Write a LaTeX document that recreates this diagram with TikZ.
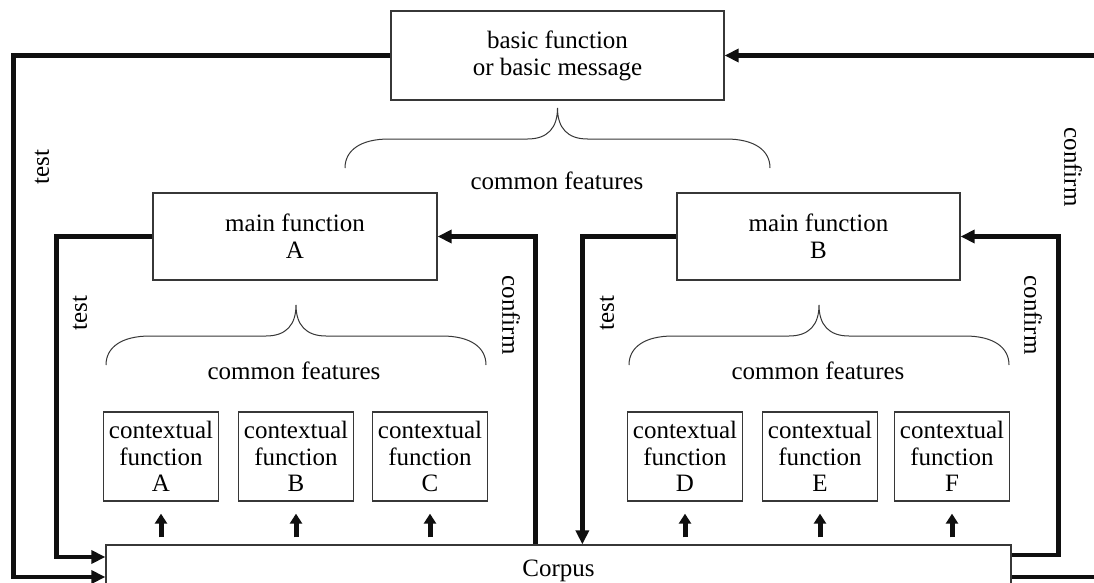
\documentclass[tikz,border=0pt]{standalone}
\usepackage{fontspec}
\setmainfont{Liberation Serif}
\usetikzlibrary{arrows.meta,positioning,calc}
\definecolor{ink}{RGB}{15,15,15}
\definecolor{boxgray}{RGB}{55,55,55}
\tikzset{
  >={Triangle[length=14pt,width=13pt]},
  txt/.style={font=\fontsize{25}{27}\selectfont,align=center},
  fbox/.style={draw=boxgray,line width=1.3pt,txt,inner sep=0pt,minimum width=#1,minimum height=87pt},
  fbox/.default=284pt,
  ctx/.style={fbox=115pt,minimum height=89pt,font=\fontsize{25}{26.5}\selectfont},
  flow/.style={->,line width=4.5pt,draw=ink},
  lift/.style={-{Triangle[length=10pt,width=12pt]},line width=5pt,draw=ink,
    shorten <=7pt,shorten >=12pt},
  tag/.style={txt,inner sep=0pt},
  % curly brace, origin between its two feet
  pics/featbrace/.style={code={
    \draw[boxgray,line width=1pt] (-#1,0) .. controls (-#1,-18) and (-#1+16,-29) .. (-#1+44,-29)
      -- (-30,-29) .. controls (-10,-29) and (0,-40) .. (0,-60)
      .. controls (0,-40) and (10,-29) .. (30,-29)
      -- (#1-44,-29) .. controls (#1-16,-29) and (#1,-18) .. (#1,0);
  }},
  pics/featbrace/.default=190,
}

\begin{document}
\begin{tikzpicture}[x=1pt,y=-1pt]
  \fill[white] (0,0) rectangle (1094,583);
  \useasboundingbox (0,0) rectangle (1094,583);

  % boxes
  \node[fbox=333pt,minimum height=89pt] (basic) at (557.5,55.5) {basic function\\or basic message};
  \node[fbox] (mainA) at (295,236.5) {main function\\A};
  \node[fbox=283pt] (mainB) at (818.5,236.5) {main function\\B};
  \foreach \n/\x in {A/161,B/296,C/430,D/685,E/820,F/952}
    \node[ctx] (ctx\n) at (\x,456.5) {contextual\\function\\\n};
  \node[draw=boxgray,line width=1.3pt,txt,inner sep=0pt,minimum width=905pt,minimum height=52pt]
    (corpus) at (558.5,571) {Corpus};

  % braces
  \pic at (557.5,168) {featbrace=212.5};
  \pic at (296,365) {featbrace=190};
  \pic at (819,365) {featbrace=190};
  \node[tag] (cfTop) at (557,181) {common features};
  \node[tag] (cfA) at (294,371) {common features};
  \node[tag] (cfB) at (818,371) {common features};

  % test / confirm loops
  \draw[flow] (basic.west) -- ++(-377,0) |- ([yshift=-6pt]corpus.west);
  \draw[flow] ([yshift=-6pt]corpus.east) -- ++(100,0) |- (basic.east);
  \draw[flow] (mainA.west) -- ++(-96,0) |- ([yshift=14pt]corpus.west);
  \draw[flow] ([xshift=430pt]corpus.north west) |- (mainA.east);
  \draw[flow] (mainB.west) -| ([xshift=477pt]corpus.north west);
  \draw[flow] ([yshift=16pt]corpus.east) -- ++(47,0) |- (mainB.east);

  \node[tag,rotate=90] (testTop) at (42,167) {test};
  \node[tag,rotate=90] (testA) at (80,313) {test};
  \node[tag,rotate=90] (testB) at (607,313) {test};
  \node[tag,rotate=-90] (confTop) at (1073,167) {confirm};
  \node[tag,rotate=-90] (confA) at (511,315) {confirm};
  \node[tag,rotate=-90] (confB) at (1033,315) {confirm};

  % corpus feeds the contextual functions
  \foreach \n in {A,B,C,D,E,F}
    \draw[lift] (ctx\n.south |- corpus.north) -- (ctx\n.south);
\end{tikzpicture}
\end{document}
